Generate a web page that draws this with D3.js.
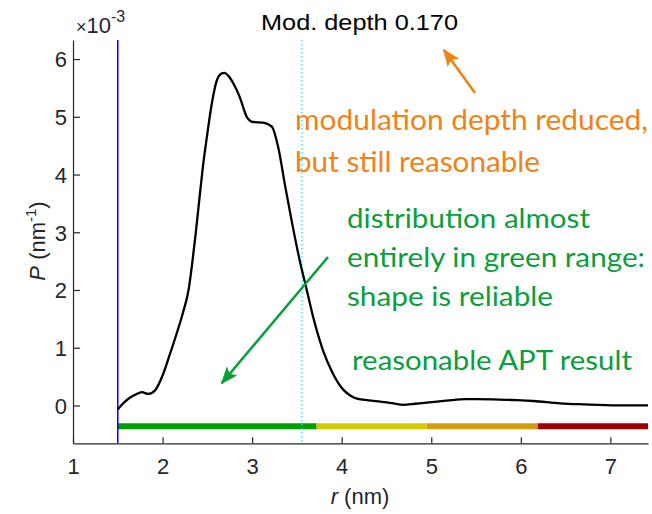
<!DOCTYPE html>
<html>
<head>
<meta charset="utf-8">
<script src="https://cdn.jsdelivr.net/npm/d3@7"></script>
<style>
  body { margin: 0; background: #fff; }
  svg { display: block; }
</style>
</head>
<body>
<script>
// distance distribution, P in units of 1e-3 nm^-1
var rValues = [1.5, 1.55, 1.63, 1.7, 1.77, 1.84, 1.92, 2.0, 2.08, 2.16, 2.23, 2.29, 2.33, 2.37, 2.41, 2.45, 2.5, 2.55, 2.6, 2.65, 2.69, 2.74, 2.8, 2.86, 2.94, 3.01, 3.12, 3.22, 3.29, 3.37, 3.44, 3.53, 3.61, 3.68, 3.79, 3.9, 4.02, 4.1, 4.17, 4.3, 4.43, 4.56, 4.69, 4.82, 4.95, 5.17, 5.39, 5.69, 5.9, 6.14, 6.44, 6.7, 7.07, 7.42];
var pValues = [-0.07, 0.02, 0.13, 0.19, 0.23, 0.2, 0.27, 0.52, 0.88, 1.26, 1.62, 2.0, 2.45, 2.98, 3.56, 4.13, 4.71, 5.23, 5.6, 5.74, 5.76, 5.7, 5.55, 5.35, 5.0, 4.91, 4.9, 4.83, 4.48, 3.79, 3.21, 2.52, 2.0, 1.54, 0.96, 0.56, 0.27, 0.17, 0.12, 0.09, 0.066, 0.04, 0.01, 0.03, 0.05, 0.083, 0.11, 0.107, 0.095, 0.078, 0.038, 0.02, 0.003, 0.003];

var xTicks = [1, 2, 3, 4, 5, 6, 7];
var yTicks = [0, 1, 2, 3, 4, 5, 6];

// reliability ranges along r
var rangeStarts = [1.5, 3.72, 4.95, 6.19];
var rangeEnds = [3.72, 4.95, 6.19, 7.42];
var rangeColors = ["#00a000", "#d2cc00", "#d49c0c", "#a00000"];

var rMin = 1.5;          // blue line
var rMax = 3.556;        // cyan dotted line
var modDepth = 0.170;

var width = 652, height = 514;

var svg = d3.select("body").append("svg")
            .attr("width", width)
            .attr("height", height);

var x = d3.scaleLinear().domain([1, 7.42]).range([73, 648]);
var y = d3.scaleLinear().domain([-0.655, 6.33]).range([443.3, 40]);

var axisColor = "#262626";
var tickFont = "'Liberation Sans', Arial, sans-serif";

//reliability bar
svg.selectAll(".range")
   .data(rangeStarts)
   .enter()
   .append("line")
      .attr("class", "range")
      .attr("x1", function(d){ return x(d); })
      .attr("x2", function(d, i){ return x(rangeEnds[i]); })
      .attr("y1", y(-0.36))
      .attr("y2", y(-0.36))
      .attr("stroke", function(d, i){ return rangeColors[i]; })
      .attr("stroke-width", 6);

//vertical markers
svg.append("line")
   .attr("x1", x(rMin)).attr("x2", x(rMin))
   .attr("y1", y.range()[1]).attr("y2", y.range()[0])
   .attr("stroke", "#0000ff")
   .attr("stroke-width", 1.5);

svg.append("line")
   .attr("x1", x(rMax)).attr("x2", x(rMax))
   .attr("y1", y.range()[1]).attr("y2", y.range()[0])
   .attr("stroke", "#00e5ff")
   .attr("stroke-width", 1.2)
   .attr("stroke-dasharray", "1.5,2.5");

//the distribution
var line = d3.line()
             .x(function(d){ return x(d[0]); })
             .y(function(d){ return y(d[1]); })
             .curve(d3.curveMonotoneX);

svg.append("path")
   .datum(d3.zip(rValues, pValues))
   .attr("d", line)
   .attr("fill", "none")
   .attr("stroke", "#000")
   .attr("stroke-width", 2.3)
   .attr("stroke-linejoin", "round");

//axes, ticks pointing inward like matlab
var xAxis = svg.append("g")
   .attr("transform", "translate(0," + y.range()[0] + ")")
   .call(d3.axisBottom(x).tickValues(xTicks).tickFormat(d3.format("d"))
           .tickSize(-6).tickSizeOuter(0));

var yAxis = svg.append("g")
   .attr("transform", "translate(" + x.range()[0] + ",0)")
   .call(d3.axisLeft(y).tickValues(yTicks).tickFormat(d3.format("d"))
           .tickSize(-7).tickSizeOuter(0));

[xAxis, yAxis].forEach(function(g){
  g.select(".domain").attr("stroke", axisColor).attr("stroke-width", 1.2);
  g.selectAll(".tick line").attr("stroke", axisColor).attr("stroke-width", 1.2);
  g.selectAll(".tick text")
   .attr("fill", axisColor)
   .style("font-family", tickFont)
   .style("font-size", "22px");
});
xAxis.selectAll(".tick text").attr("dy", "0.71em").attr("y", 15);
yAxis.selectAll(".tick text").attr("x", -6).attr("dy", "0.36em");

//exponent label
var expo = svg.append("text")
   .attr("x", 76)
   .attr("y", 33)
   .attr("fill", axisColor)
   .style("font-family", tickFont)
   .style("font-size", "22px");
expo.append("tspan").text("\u00d7").style("font-size", "18px");
expo.append("tspan").text("10");
expo.append("tspan").text("-3").attr("dy", -11).style("font-size", "16px");

//axis labels
var xl = svg.append("text")
   .attr("x", 360)
   .attr("y", 504)
   .attr("text-anchor", "middle")
   .attr("fill", axisColor)
   .style("font-family", tickFont)
   .style("font-size", "22px");
xl.append("tspan").text("r").style("font-style", "italic");
xl.append("tspan").text(" (nm)");

var yl = svg.append("text")
   .attr("transform", "translate(45,241) rotate(-90)")
   .attr("text-anchor", "middle")
   .attr("fill", axisColor)
   .style("font-family", tickFont)
   .style("font-size", "22px");
yl.append("tspan").text("P").style("font-style", "italic");
yl.append("tspan").text(" (nm");
yl.append("tspan").text("-1").attr("dy", -9).style("font-size", "15px");
yl.append("tspan").text(")").attr("dy", 9);

//title
svg.append("text")
   .attr("x", 359.5)
   .attr("y", 30)
   .attr("text-anchor", "middle")
   .attr("fill", "#000")
   .attr("textLength", 197)
   .attr("lengthAdjust", "spacingAndGlyphs")
   .style("font-family", tickFont)
   .style("font-size", "22px")
   .text("Mod. depth " + modDepth.toFixed(3));

//annotations
var orange = "#f08216";
var green = "#0a9e3c";
var noteFont = "Lato, 'Open Sans', sans-serif";

var noteText = [
  "modulation depth reduced,",
  "but still reasonable",
  "distribution almost",
  "entirely in green range:",
  "shape is reliable",
  "reasonable APT result"
];
var noteX = [295, 295, 347, 347, 347, 352];
var noteY = [130, 172, 228, 267, 306, 370];
var noteW = [353, 245, 243, 298, 206, 280];
var noteSize = [28, 28, 26, 26, 26, 26];
var noteColor = [orange, orange, green, green, green, green];

svg.selectAll(".note")
   .data(noteText)
   .enter()
   .append("text")
      .attr("class", "note")
      .attr("x", function(d, i){ return noteX[i]; })
      .attr("y", function(d, i){ return noteY[i]; })
      .attr("textLength", function(d, i){ return noteW[i]; })
      .attr("lengthAdjust", "spacingAndGlyphs")
      .attr("fill", function(d, i){ return noteColor[i]; })
      .style("font-family", noteFont)
      .style("font-size", function(d, i){ return noteSize[i] + "px"; })
      .text(function(d){ return d; });

//arrows
var defs = svg.append("defs");
[["arrowOrange", orange], ["arrowGreen", green]].forEach(function(a){
  defs.append("marker")
      .attr("id", a[0])
      .attr("markerUnits", "userSpaceOnUse")
      .attr("viewBox", "0 0 18 14")
      .attr("refX", 16)
      .attr("refY", 7)
      .attr("markerWidth", 18)
      .attr("markerHeight", 14)
      .attr("orient", "auto")
      .append("path")
         .attr("d", "M0,0 L18,7 L0,14 L4,7 Z")
         .attr("fill", a[1]);
});

var arrows = [
  {x1: 475, y1: 93, x2: 444, y2: 50, color: orange, id: "arrowOrange"},
  {x1: 328, y1: 257, x2: 222, y2: 383, color: green, id: "arrowGreen"}
];

svg.selectAll(".arrow")
   .data(arrows)
   .enter()
   .append("line")
      .attr("class", "arrow")
      .attr("x1", function(d){ return d.x1; })
      .attr("y1", function(d){ return d.y1; })
      .attr("x2", function(d){ return d.x2; })
      .attr("y2", function(d){ return d.y2; })
      .attr("stroke", function(d){ return d.color; })
      .attr("stroke-width", 2.6)
      .attr("marker-end", function(d){ return "url(#" + d.id + ")"; });
</script>
</body>
</html>
